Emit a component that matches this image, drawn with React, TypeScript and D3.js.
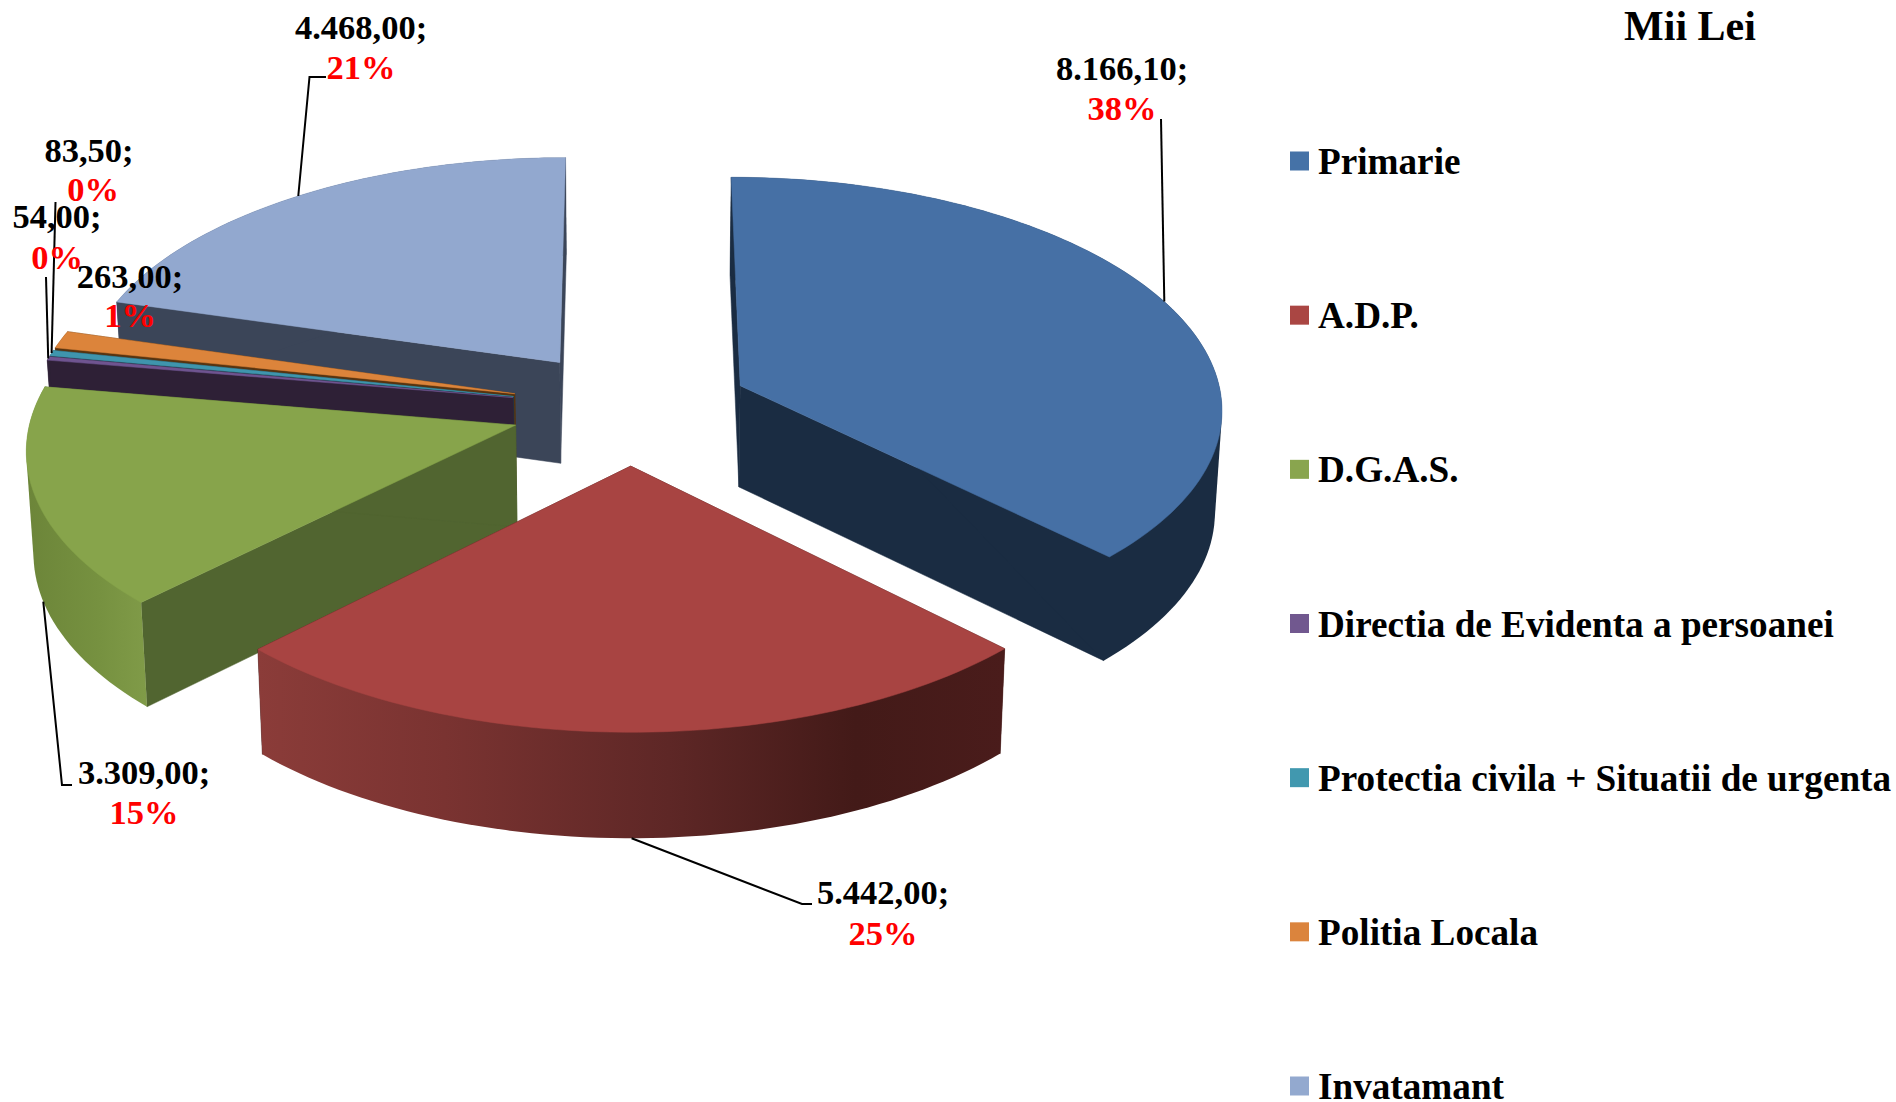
import React from "react";
import * as d3 from "d3";

const categories = ["Primarie", "A.D.P.", "D.G.A.S.", "Directia de Evidenta a persoanei", "Protectia civila + Situatii de urgenta", "Politia Locala", "Invatamant"];
const values = [8166.1, 5442, 3309, 54, 83.5, 263, 4468];
const valueLabels = ["8.166,10;", "5.442,00;", "3.309,00;", "54,00;", "83,50;", "263,00;", "4.468,00;"];
const percentLabels = ["38%", "25%", "15%", "0%", "0%", "1%", "21%"];
const topColors = ["#4670a5", "#a84442", "#87a44b", "#6f5490", "#3f95ad", "#dc843b", "#92a8cf"];
const wallColors = ["#1a2c42", "#431a19", "#516530", "#2e2036", "#1b4450", "#57330f", "#3b4558"];
const legendColors = ["#4572a7", "#aa4643", "#89a54e", "#71588f", "#4198af", "#db843d", "#93a9cf"];
const title = "Mii Lei";

const W = 1896, H = 1102;
const FONT = "'Liberation Serif', 'Times New Roman', serif";

// Perspective pie model
const cx = 630.5, cy = 407.5, scaleX = 483, scaleY = 231, persp = 0.09, explode = 0.248;
const lean = 0.988, depth0 = 101.5, depthSlope = 3.6;

const project = (x: number, y: number, bottom = false): [number, number] => {
  const w = 1 + persp * y;
  const px = (scaleX * x) / w;
  const py = (scaleY * y) / w;
  if (!bottom) return [cx + px, cy - py];
  return [cx + px * lean, cy - py + depth0 - depthSlope * y];
};

const pieGen = d3.pie<number>().sort(null).startAngle(0).endAngle(2 * Math.PI);
const slices = pieGen(values);
const line = d3.line<[number, number]>();

const geom = slices.map((s) => {
  const mid = (s.startAngle + s.endAngle) / 2;
  const ox = explode * Math.sin(mid), oy = explode * Math.cos(mid);
  const rim = (a: number, bottom = false) => project(ox + Math.sin(a), oy + Math.cos(a), bottom);
  const apexTop = project(ox, oy), apexBottom = project(ox, oy, true);
  const n = Math.max(4, Math.ceil((s.endAngle - s.startAngle) * 40));
  const angles = d3.range(n + 1).map((i) => s.startAngle + ((s.endAngle - s.startAngle) * i) / n);
  const top = [apexTop, ...angles.map((a) => rim(a))] as [number, number][];
  // Swept outer wall: the hull of the rim at both levels; the top face hides its inner part
  const band = d3.polygonHull([...angles.map((a) => rim(a)), ...angles.map((a) => rim(a, true))]) as [number, number][];
  const wallA = [apexTop, rim(s.startAngle), rim(s.startAngle, true), apexBottom] as [number, number][];
  const wallB = [apexTop, rim(s.endAngle), rim(s.endAngle, true), apexBottom] as [number, number][];
  return { mid, rim, top, band, wallA, wallB };
});

const paintOrder = [6, 5, 4, 3, 2, 1, 0];

// Label placement: centre x of value, centre x of percent, baselines
const labelX = [1122, 883, 144, 57, 89, 130, 361];
const percentX = [1122, 883, 144, 57, 93, 130, 361];
const labelY1 = [80, 904, 784, 228, 162, 288, 39];
const labelY2 = [120, 945, 824, 269, 201, 327, 79];
// Leader elbows (label side), anchored on the slice rim on the pie side
const leaderKnots: ([number, number][] | null)[] = [
  [[1161, 119]],
  [[812, 904], [802, 904]],
  [[72, 785], [62, 785]],
  [[46, 277]],
  [[55.5, 202]],
  null,
  [[326, 77], [309.5, 77]],
];
const leaderBottom = [false, true, true, false, false, false, false];

const legendY = d3.scalePoint<string>().domain(categories).range([161, 1086]);

const bandFill = (i: number) => (i === 1 ? "url(#redRim)" : i === 2 ? "url(#greenRim)" : wallColors[i]);

export default function App() {
  return (
    <svg width={W} height={H} viewBox={`0 0 ${W} ${H}`} style={{ position: "fixed", left: 0, top: 0, background: "#fff" }}>
      <defs>
        <linearGradient id="redRim" x1="0" x2="1" y1="0" y2="0">
          <stop offset="0" stopColor="#8b3c39" />
          <stop offset="0.25" stopColor="#7a3331" />
          <stop offset="0.55" stopColor="#5e2726" />
          <stop offset="0.8" stopColor="#431a18" />
          <stop offset="1" stopColor="#4a1c1b" />
        </linearGradient>
        <linearGradient id="greenRim" x1="0" x2="1" y1="0" y2="0">
          <stop offset="0" stopColor="#6c8539" />
          <stop offset="0.6" stopColor="#769140" />
          <stop offset="1" stopColor="#809b48" />
        </linearGradient>
      </defs>

      {paintOrder.map((i) => {
        const g = geom[i];
        return (
          <g key={categories[i]}>
            <path d={line(g.wallA) + "Z"} fill={wallColors[i]} stroke={wallColors[i]} strokeWidth={0.5} />
            <path d={line(g.wallB) + "Z"} fill={wallColors[i]} stroke={wallColors[i]} strokeWidth={0.5} />
            <path d={line(g.band) + "Z"} fill={bandFill(i)} />
            <path d={line(g.top) + "Z"} fill={topColors[i]} stroke={topColors[i]} strokeWidth={0.5} />
          </g>
        );
      })}

      {leaderKnots.map((k, i) => {
        if (!k) return null;
        const end = geom[i].rim(geom[i].mid, leaderBottom[i]);
        return <path key={i} d={line([...k, end]) as string} fill="none" stroke="#000" strokeWidth={2} />;
      })}

      <g fontFamily={FONT} fontWeight="bold" fontSize={34.5} textAnchor="middle">
        {valueLabels.map((t, i) => (
          <g key={t}>
            <text x={labelX[i]} y={labelY1[i]} fill="#000">{t}</text>
            <text x={percentX[i]} y={labelY2[i]} fill="#ff0000">{percentLabels[i]}</text>
          </g>
        ))}
      </g>

      <text x={1690} y={40} fontFamily={FONT} fontWeight="bold" fontSize={42} textAnchor="middle">{title}</text>

      <g fontFamily={FONT} fontWeight="bold" fontSize={37.2}>
        {categories.map((c, i) => {
          const y = legendY(c) as number;
          return (
            <g key={c}>
              <rect x={1290} y={y - 9.5} width={19} height={19} fill={legendColors[i]} />
              <text x={1318} y={y + 13}>{c}</text>
            </g>
          );
        })}
      </g>
    </svg>
  );
}
